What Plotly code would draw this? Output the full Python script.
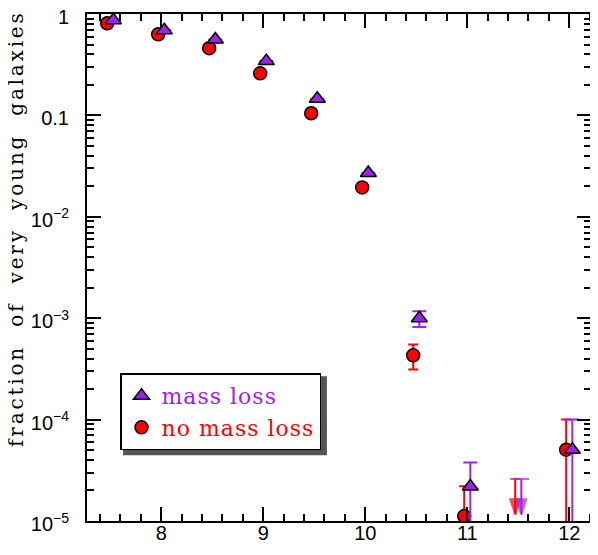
import plotly.graph_objects as go

# stellar-mass bins (log M*)
mass_bins = [7.5, 8.0, 8.5, 9.0, 9.5, 10.0, 10.5, 11.0, 11.5, 12.0]

# fraction of very young galaxies - with mass loss
frac_ml = [0.87, 0.69, 0.56, 0.343, 0.146, 0.027, 1.0e-3, 2.19e-5, None, 5.05e-5]
err_ml_hi = [None, None, None, None, None, None, 1.7e-4, 1.58e-5, None, 4.95e-5]
err_ml_lo = [None, None, None, None, None, None, 1.8e-4, 2.19e-5, None, 5.05e-5]

# without mass loss
frac_nml = [0.81, 0.63, 0.46, 0.26, 0.105, 0.0195, 4.3e-4, 1.12e-5, None, 5.05e-5]
err_nml_hi = [None, None, None, None, None, None, 1.2e-4, 1.08e-5, None, 4.95e-5]
err_nml_lo = [None, None, None, None, None, None, 1.18e-4, 1.12e-5, None, 5.05e-5]

# upper limits in the 11.5 bin
ulim_bin = 11.5
ulim_ml = 2.6e-5
ulim_nml = 2.6e-5

y_tickvals = [1e-5, 1e-4, 1e-3, 1e-2, 0.1, 1]
y_ticktext = ["10<sup>\u22125</sup>", "10<sup>\u22124</sup>", "10<sup>\u22123</sup>",
              "10<sup>\u22122</sup>", "0.1", "1"]

PURPLE = "#a020f0"
RED = "#ff0000"
OFF = 0.03        # horizontal shift so the two series don't overlap
ARROW = 2.24      # arrow length (factor in y) for the upper limits

fig = go.Figure()

# no mass loss (drawn first, sits under the triangles)
fig.add_trace(go.Scatter(
    x=[b - OFF for b in mass_bins], y=frac_nml,
    mode="markers",
    name='<span style="color:#ff0000;letter-spacing:1px">no\u00a0mass\u00a0loss</span>',
    legendrank=2,
    marker=dict(symbol="circle", size=13, color=RED, line=dict(color="black", width=1.5)),
    error_y=dict(type="data", symmetric=False, array=err_nml_hi, arrayminus=err_nml_lo,
                 color=RED, thickness=2, width=5),
))

fig.add_trace(go.Scatter(
    x=[b + OFF for b in mass_bins], y=frac_ml,
    mode="markers",
    name='<span style="color:#a020f0;letter-spacing:1px">mass\u00a0loss</span>',
    legendrank=1,
    marker=dict(symbol="triangle-up", size=14, color=PURPLE, line=dict(color="black", width=1.5)),
    error_y=dict(type="data", symmetric=False, array=err_ml_hi, arrayminus=err_ml_lo,
                 color=PURPLE, thickness=2, width=7),
))

# upper limits: cap + arrow pointing down
for xo, val, col, cap in [(-OFF, ulim_nml, RED, 7), (OFF, ulim_ml, PURPLE, 11)]:
    fig.add_trace(go.Scatter(
        x=[ulim_bin + xo, ulim_bin + xo], y=[val, val / ARROW],
        mode="lines+markers", showlegend=False, hoverinfo="skip",
        line=dict(color=col, width=2),
        marker=dict(symbol=["line-ew-open", "arrow"], angle=[0, 180], size=[cap, 16],
                    color=col, line=dict(color=col, width=2)),
    ))

axis_common = dict(
    showline=True, linecolor="black", linewidth=2, mirror="ticks",
    ticks="inside", tickcolor="black", tickwidth=1.5, ticklen=14,
    showgrid=False, zeroline=False, automargin=False, ticklabeloverflow="allow",
    tickfont=dict(family="Liberation Sans", size=20, color="black"),
)

fig.update_xaxes(
    range=[7.272, 12.213], tickmode="linear", tick0=0, dtick=1,
    ticklabelstandoff=-7,
    minor=dict(ticks="inside", ticklen=7, tickwidth=1.5, tickcolor="black",
               tickmode="linear", tick0=0, dtick=0.2, showgrid=False),
    **axis_common,
)

y_minor = [m * 10 ** e for e in range(-5, 0) for m in range(2, 10)]
fig.update_yaxes(
    type="log", range=[-5, 0], tickmode="array", tickvals=y_tickvals, ticktext=y_ticktext,
    ticklabelstandoff=12, ticklabelshift=3,
    minor=dict(ticks="inside", ticklen=7, tickwidth=1.5, tickcolor="black",
               tickmode="array", tickvals=y_minor, showgrid=False),
    **axis_common,
)

fig.add_annotation(
    text='<span style="letter-spacing:2.8px">fraction\u00a0\u00a0of\u00a0\u00a0very\u00a0\u00a0young\u00a0\u00a0galaxies</span>',
    xref="paper", yref="paper", x=-0.141, y=0.576, xanchor="center", yanchor="middle",
    textangle=-90, showarrow=False,
    font=dict(family="DejaVu Serif", size=20, color="black"),
)

# drop shadow behind the legend box
fig.add_shape(type="rect", xref="paper", yref="paper",
              x0=0.0715, x1=0.476, y0=0.1297, y1=0.2856,
              fillcolor="#555555", line_width=0, layer="above")

# the page puts the figure 8px in from the top-left corner, so the figure is
# 8px smaller than the window and the margins are shifted accordingly
fig.update_layout(
    width=590, height=547,
    margin=dict(l=79, r=7, t=6, b=34),
    paper_bgcolor="white", plot_bgcolor="white",
    showlegend=True,
    legend=dict(
        x=0.0655, y=0.291, xanchor="left", yanchor="top",
        bgcolor="white", bordercolor="black", borderwidth=1.5,
        font=dict(family="DejaVu Serif", size=22),
        itemwidth=30, tracegroupgap=0,
    ),
)

fig.write_html("out.html")
